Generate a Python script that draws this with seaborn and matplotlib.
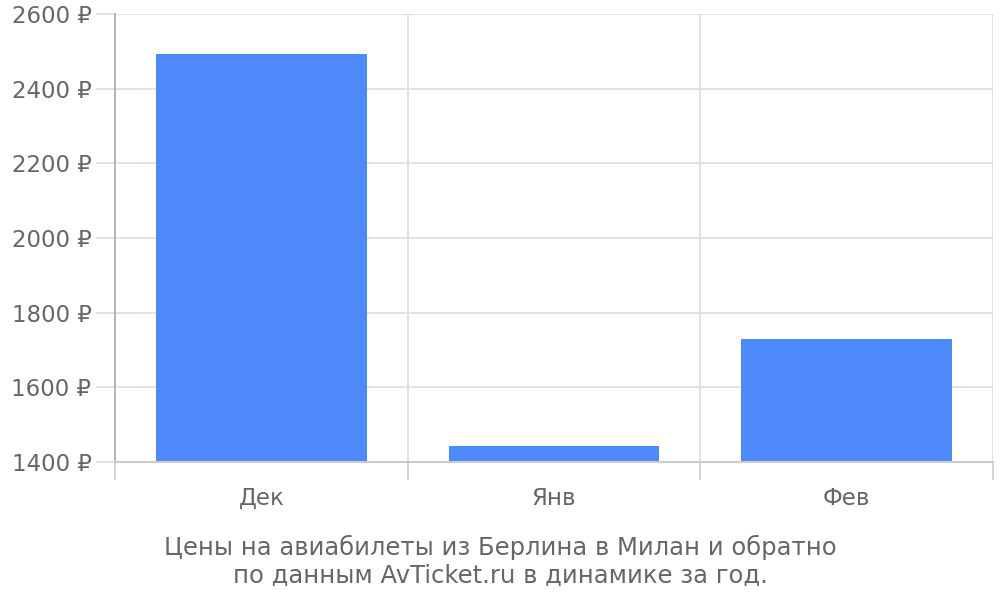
import matplotlib
matplotlib.use("Agg")
import matplotlib.pyplot as plt
import pandas as pd
import seaborn as sns

# Data
months = ["Дек", "Янв", "Фев"]
prices = [2492, 1443, 1730]
y_ticks = [1400, 1600, 1800, 2000, 2200, 2400, 2600]
caption = "Цены на авиабилеты из Берлина в Милан и обратно\nпо данным AvTicket.ru в динамике за год."

df = pd.DataFrame({"month": months, "price": prices})

sns.set_style("white")
plt.rcParams["font.family"] = ["DejaVu Sans"]
text_color = "#666666"

fig = plt.figure(figsize=(10, 6), dpi=100)
ax = fig.add_axes([0.115, 0.23, 0.878, 0.7467])

sns.barplot(data=df, x="month", y="price", color="#4d89f9", saturation=1,
            width=0.72, linewidth=0, ax=ax, zorder=3)

ax.set_xlim(-0.5, len(months) - 0.5)
ax.set_ylim(y_ticks[0], y_ticks[-1])
ax.set_yticks(y_ticks)
ax.set_yticklabels([f"{v} ₽" for v in y_ticks])
ax.set_xlabel("")
ax.set_ylabel("")

# category boundaries as minor ticks / vertical grid
ax.set_xticks([i - 0.5 for i in range(len(months) + 1)], minor=True)
ax.tick_params(axis="x", which="major", bottom=False, length=0, pad=18,
               labelsize=16.5, labelcolor=text_color)
ax.tick_params(axis="x", which="minor", bottom=True, length=13, width=1.2, color="#cccccc")
ax.tick_params(axis="y", left=True, length=14, width=1.2, color="#dddddd", pad=3,
               labelsize=16.5, labelcolor=text_color)
ax.grid(axis="y", color="#dddddd", linewidth=1.2, zorder=0)
ax.grid(axis="x", which="minor", color="#dddddd", linewidth=1.2, zorder=0)
ax.set_axisbelow(True)

for side in ["top", "right"]:
    ax.spines[side].set_visible(False)
ax.spines["left"].set_color("#aaaaaa")
ax.spines["left"].set_linewidth(1.2)
ax.spines["bottom"].set_color("#cccccc")
ax.spines["bottom"].set_linewidth(1.5)
ax.spines["bottom"].set_zorder(4)

fig.text(0.5, 0.064, caption, ha="center", va="center", fontsize=17.5,
         color=text_color, linespacing=1.2)

fig.savefig("out.png", dpi=100)
